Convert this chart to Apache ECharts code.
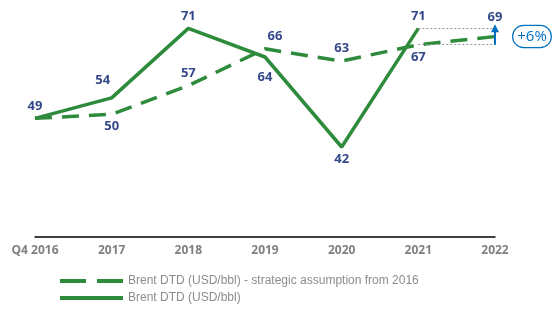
<!DOCTYPE html>
<html>
<head>
<meta charset="utf-8">
<script src="https://cdn.jsdelivr.net/npm/echarts@6/dist/echarts.min.js"></script>
<style>
  html, body { margin: 0; padding: 0; background: #fff; }
  #brentChart { width: 554px; height: 309px; }
</style>
</head>
<body>
<div id="brentChart"></div>
<script>
  // categories and values
  var years = ['Q4 2016', '2017', '2018', '2019', '2020', '2021', '2022'];
  var strategicValues = [49, 50, 57, 66, 63, 67, 69];
  var actualValues = [49, 54, 71, 64, 42, 71, null];
  var strategicName = 'Brent DTD (USD/bbl) - strategic assumption from 2016';
  var actualName = 'Brent DTD (USD/bbl)';
  var changeText = '+6%';

  var green = '#2E8B3C';
  var labelBlue = '#34498A';
  var arrowBlue = '#0070C0';

  // where each data label sits (top / bottom + nudge)
  var strategicPos = [null, ['bottom', [0, 0]], ['top', [0, 0]], ['top', [10, 0]], ['top', [0, 0]], ['bottom', [0, 0]], ['top', [0, -7]]];
  var actualPos = [['top', [0, 0]], ['top', [-9, -5]], ['top', [0, 0]], ['bottom', [0, 8]], ['bottom', [0, 0]], ['top', [0, 0]], null];

  function withLabels(values, pos) {
    return values.map(function (v, i) {
      var p = pos[i];
      if (v == null) return null;
      if (!p) return { value: v, label: { show: false } };
      return { value: v, label: { show: true, position: p[0], offset: p[1] } };
    });
  }

  var chart = echarts.init(document.getElementById('brentChart'));
  chart.setOption({
    animation: false,
    grid: { left: 35, right: 59, top: 12, bottom: 72 },
    legend: {
      orient: 'vertical',
      left: 58,
      top: 275,
      padding: 0,
      itemWidth: 63,
      itemHeight: 14,
      itemGap: 5,
      itemStyle: { opacity: 0 },
      textStyle: { color: '#8c8c8c', fontSize: 12, fontFamily: 'Liberation Sans' },
      data: [
        { name: strategicName, lineStyle: { type: [26, 11], width: 4 } },
        { name: actualName, lineStyle: { width: 4 } }
      ]
    },
    xAxis: {
      type: 'category',
      data: years,
      boundaryGap: false,
      axisLine: { lineStyle: { color: '#000', width: 1.5 } },
      axisTick: { show: false },
      axisLabel: { color: '#808080', fontWeight: 'bold', fontSize: 12, fontFamily: 'Open Sans', margin: 8 }
    },
    yAxis: {
      type: 'value',
      min: 20,
      max: 75,
      show: false,
      splitLine: { show: false }
    },
    series: [
      {
        name: strategicName,
        type: 'line',
        symbol: 'circle',
        symbolSize: 0,
        z: 2,
        lineStyle: { color: green, width: 3.5, type: [17, 10] },
        itemStyle: { color: green },
        label: { color: labelBlue, fontWeight: 'bold', fontSize: 13, fontFamily: 'Open Sans', distance: 6 },
        data: withLabels(strategicValues, strategicPos),
        markLine: {
          silent: true,
          symbol: 'none',
          label: { show: false },
          lineStyle: { color: '#999', width: 1, type: [2, 2] },
          data: [
            [{ coord: ['2021', 71] }, { coord: ['2022', 71] }],
            [{ coord: ['2021', 67] }, { coord: ['2022', 67] }],
            [
              { coord: ['2022', 67], symbol: 'none', lineStyle: { color: arrowBlue, width: 2, type: 'solid' } },
              { coord: ['2022', 71], symbol: 'triangle', symbolSize: [8, 8], lineStyle: { color: arrowBlue, width: 2, type: 'solid' } }
            ]
          ]
        },
        markPoint: {
          silent: true,
          symbol: 'circle',
          symbolSize: 0,
          data: [{
            coord: ['2022', 69],
            label: {
              show: true,
              formatter: changeText,
              offset: [37, 0],
              color: arrowBlue,
              fontSize: 15,
              fontFamily: 'Open Sans',
              backgroundColor: '#fff',
              borderColor: arrowBlue,
              borderWidth: 1.2,
              borderRadius: 12,
              padding: [3, 4]
            }
          }]
        }
      },
      {
        name: actualName,
        type: 'line',
        symbol: 'circle',
        symbolSize: 0,
        z: 3,
        lineStyle: { color: green, width: 3.5 },
        itemStyle: { color: green },
        label: { color: labelBlue, fontWeight: 'bold', fontSize: 13, fontFamily: 'Open Sans', distance: 6 },
        data: withLabels(actualValues, actualPos)
      }
    ]
  });
</script>
</body>
</html>
